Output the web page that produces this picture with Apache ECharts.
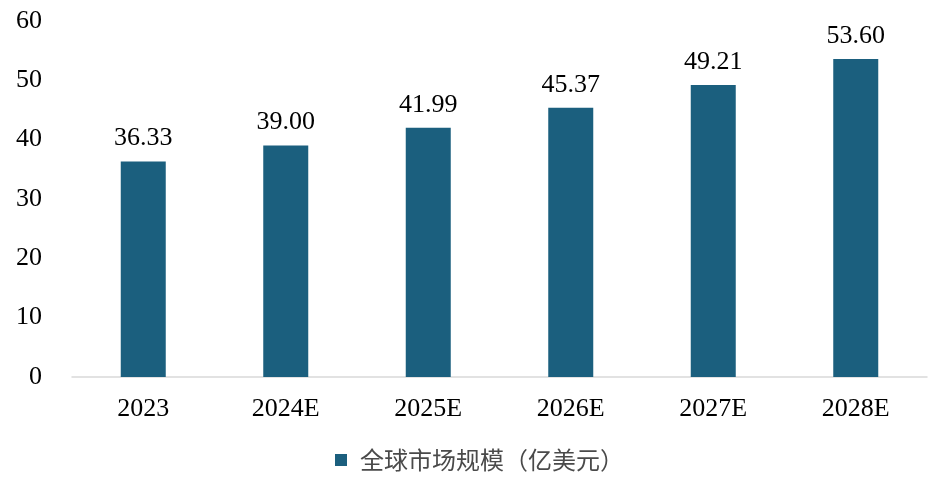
<!DOCTYPE html>
<html>
<head>
<meta charset="utf-8">
<title>全球市场规模</title>
<script src="https://cdn.jsdelivr.net/npm/echarts@6/dist/echarts.min.js"></script>
<style>
    html, body { margin: 0; padding: 0; background: #fff; }
    #main { width: 934px; height: 480px; }
</style>
</head>
<body>
<div id="main"></div>
<script>
    // 年份与规模（亿美元）
    var years = ['2023', '2024E', '2025E', '2026E', '2027E', '2028E'];
    var marketSize = [36.33, 39.00, 41.99, 45.37, 49.21, 53.60];
    var seriesName = '全球市场规模（亿美元）';

    var chart = echarts.init(document.getElementById('main'));

    chart.setOption({
        animation: false,
        grid: {
            left: 72,
            right: 7,
            top: 21,
            bottom: 103
        },
        legend: {
            data: [seriesName],
            bottom: 3,
            left: 330,
            itemWidth: 12,
            itemHeight: 12,
            icon: 'rect',
            itemGap: 10,
            textStyle: {
                fontFamily: 'Noto Sans CJK SC',
                fontSize: 24,
                color: '#4a4a4a',
                padding: [0, 0, 0, 8]
            }
        },
        xAxis: {
            type: 'category',
            data: years,
            axisLine: { lineStyle: { color: '#d9d9d9', width: 1.5 } },
            axisTick: { show: false },
            axisLabel: {
                margin: 19,
                fontFamily: 'Liberation Serif',
                fontSize: 26,
                color: '#000'
            }
        },
        yAxis: {
            type: 'value',
            min: 0,
            max: 60,
            interval: 10,
            splitLine: { show: false },
            axisLine: { show: false },
            axisTick: { show: false },
            axisLabel: {
                margin: 30,
                fontFamily: 'Liberation Serif',
                fontSize: 26,
                color: '#000'
            }
        },
        series: [{
            name: seriesName,
            type: 'bar',
            data: marketSize,
            barWidth: 45,
            itemStyle: { color: '#1b5f7e' },
            label: {
                show: true,
                position: 'top',
                distance: 10,
                fontFamily: 'Liberation Serif',
                fontSize: 26,
                color: '#000',
                formatter: function (p) { return p.value.toFixed(2); }
            }
        }]
    });
</script>
</body>
</html>
